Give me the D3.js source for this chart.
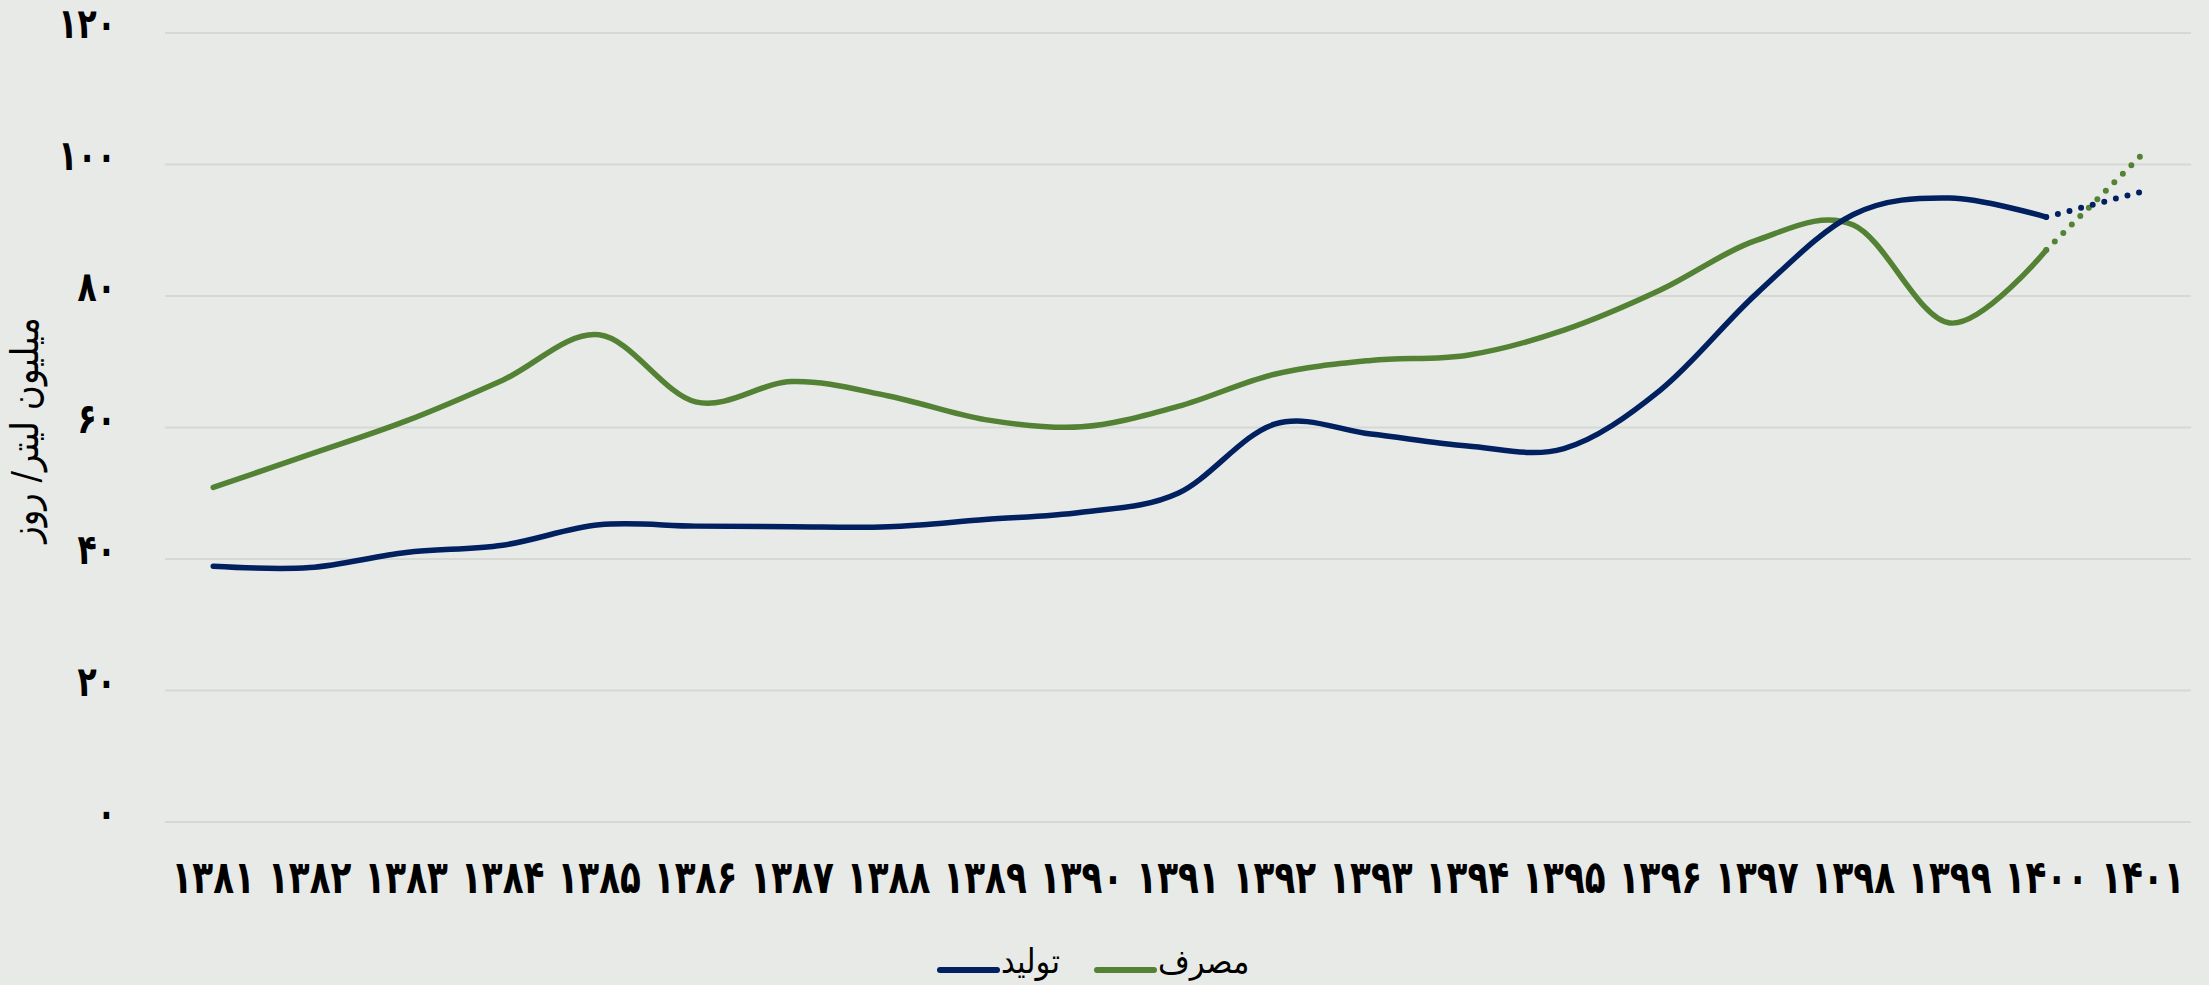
<!DOCTYPE html>
<html>
<head>
    <meta charset="utf-8"/>
    <script src="https://d3js.org/d3.v7.min.js"></script>
    <style>
        body { margin: 0; background: #e8eae7; }
        svg { display: block; }
        text { font-family: "DejaVu Sans Condensed", "DejaVu Sans", sans-serif; fill: #000; }
    </style>
</head>
<body>
<svg id="chart" width="2209" height="985"></svg>
<script>
    // years (solar hijri) on the x axis
    let years = [1381, 1382, 1383, 1384, 1385, 1386, 1387, 1388, 1389, 1390,
                 1391, 1392, 1393, 1394, 1395, 1396, 1397, 1398, 1399, 1400, 1401];
    // production (million litres / day)
    let production = [38.9, 38.7, 41.0, 42.1, 45.2, 45.0, 44.9, 44.9, 46.0, 47.1,
                      50.0, 60.5, 59.0, 57.2, 56.8, 65.7, 80.4, 92.4, 94.9, 92.0, 95.9];
    // consumption (million litres / day)
    let consumption = [50.9, 55.9, 61.0, 67.2, 74.1, 63.9, 67.0, 64.8, 61.2, 60.1,
                       63.2, 68.1, 70.2, 71.0, 74.8, 80.9, 88.5, 90.8, 75.9, 87.0, 101.6];
    // last year is a forecast, drawn dotted
    let forecastFrom = 1400;
    let yTicks = [0, 20, 40, 60, 80, 100, 120];

    let seriesNames = ["مصرف", "تولید"];
    let seriesColors = ["#548235", "#002060"];

    // persian digits
    function fa(n) {
        return String(n).replace(/[0-9]/g, d => "۰۱۲۳۴۵۶۷۸۹"[d]);
    }

    let svg = d3.select("#chart");
    let mLeft = 165, mRight = 2191, mTop = 33, mBottom = 822;

    let x = d3.scaleBand().domain(years).range([mLeft, mRight]);
    let y = d3.scaleLinear().domain([0, 120]).range([mBottom, mTop]);
    let cx = d => x(d) + x.bandwidth() / 2;

    // gridlines
    svg.append("g").selectAll("line")
        .data(yTicks)
        .join("line")
        .attr("x1", mLeft).attr("x2", mRight)
        .attr("y1", d => y(d)).attr("y2", d => y(d))
        .style("stroke", "#d6d8d5")
        .style("stroke-width", 2);

    // y labels (font is a bit squat, stretch it)
    let yAxis = d3.axisLeft(y).tickValues(yTicks).tickFormat(fa).tickSize(0).tickPadding(0);
    let gy = svg.append("g").attr("transform", "translate(116,-8)").call(yAxis);
    gy.select(".domain").remove();
    gy.selectAll("text")
        .attr("dy", "0.3em")
        .attr("transform", "scale(1,1.2)")
        .style("font-size", "35px")
        .style("font-weight", "bold");

    // x labels
    let xAxis = d3.axisBottom(x).tickFormat(fa).tickSize(0).tickPadding(0);
    let gx = svg.append("g").attr("transform", "translate(0,861)").call(xAxis);
    gx.select(".domain").remove();
    gx.selectAll("text")
        .attr("transform", "scale(1,1.2)")
        .style("font-size", "38px")
        .style("font-weight", "bold");

    // y title
    svg.append("text")
        .text("میلیون لیتر/ روز")
        .attr("transform", "translate(38,430) rotate(-90)")
        .attr("text-anchor", "middle")
        .style("font-size", "38px");

    let solid = d3.line()
        .x((d, i) => cx(years[i]))
        .y(d => y(d))
        .curve(d3.curveCardinal.tension(0));
    let dotted = d3.line()
        .x(d => cx(d[0]))
        .y(d => y(d[1]));

    let fi = years.indexOf(forecastFrom);
    [consumption, production].forEach(function (vals, k) {
        svg.append("path")
            .attr("d", solid(vals.slice(0, fi + 1)))
            .style("fill", "none")
            .style("stroke", seriesColors[k])
            .style("stroke-width", 5.5)
            .style("stroke-linecap", "round");
        let pts = years.slice(fi).map((yr, j) => [yr, vals[fi + j]]);
        svg.append("path")
            .attr("d", dotted(pts))
            .style("fill", "none")
            .style("stroke", seriesColors[k])
            .style("stroke-width", 6)
            .style("stroke-linecap", "round")
            .style("stroke-dasharray", "0 12")
            .style("stroke-dashoffset", -12);
    });

    // legend (right to left)
    let legendX = [1154, 997];
    seriesNames.forEach(function (name, k) {
        svg.append("line")
            .attr("x1", legendX[k] - 57).attr("x2", legendX[k])
            .attr("y1", 970).attr("y2", 970)
            .style("stroke", seriesColors[k])
            .style("stroke-width", 6)
            .style("stroke-linecap", "round");
        svg.append("text")
            .text(name)
            .attr("x", legendX[k] + 4)
            .attr("y", 973)
            .attr("text-anchor", "start")
            .style("font-size", "34px");
    });
</script>
</body>
</html>
